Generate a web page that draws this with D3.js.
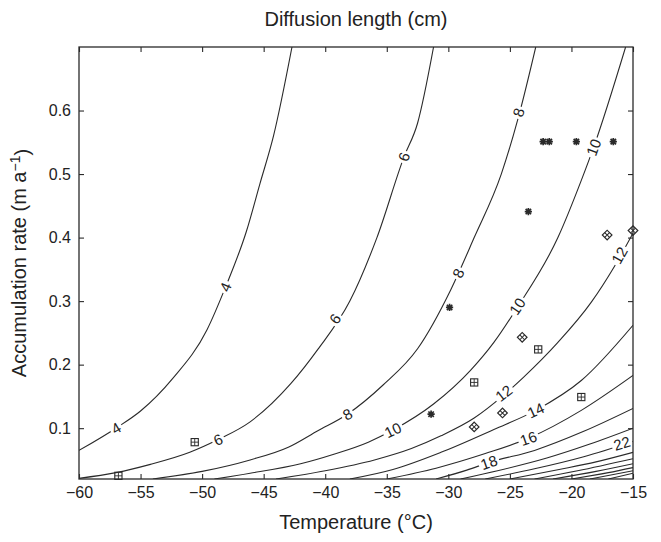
<!DOCTYPE html>
<html>
<head>
<meta charset="utf-8">
<script src="https://d3js.org/d3.v7.min.js"></script>
<style>
  body { margin: 0; background: #fff; }
  text { font-family: "Liberation Sans", Arial, Helvetica, sans-serif; fill: #222; }
</style>
</head>
<body>
<div class="vis-contour"></div>
<script>
// axis ticks
const xTicks = [-60, -55, -50, -45, -40, -35, -30, -25, -20, -15];
const yTicks = [0.1, 0.2, 0.3, 0.4, 0.5, 0.6];

// contour lines, [temperature, accumulation]
const c4 = [[-60, 0.065], [-57, 0.10], [-55, 0.127], [-52.4, 0.178], [-49.6, 0.255], [-48.1, 0.322], [-46.4, 0.41], [-45.3, 0.485], [-44.2, 0.56], [-42.7, 0.70]];
const c6 = [[-60, 0.021], [-57, 0.03], [-54.2, 0.043], [-51, 0.062], [-48.7, 0.082], [-46.1, 0.11], [-42.8, 0.17], [-40.6, 0.224], [-38, 0.30], [-35.8, 0.40], [-33.6, 0.527], [-32.5, 0.58], [-31.2, 0.70]];
const c8 = [[-54, 0.02], [-50, 0.032], [-46.1, 0.05], [-43, 0.07], [-40.6, 0.096], [-38.2, 0.122], [-35.3, 0.168], [-32.5, 0.225], [-29.8, 0.318], [-27.9, 0.40], [-25.7, 0.50], [-24.3, 0.59], [-22.9, 0.70]];
const c10 = [[-49, 0.02], [-46.1, 0.029], [-42, 0.044], [-39.3, 0.059], [-36.5, 0.078], [-34.5, 0.097], [-31.2, 0.138], [-28.2, 0.191], [-26.3, 0.235], [-24.4, 0.29], [-21.1, 0.40], [-19.2, 0.49], [-18.2, 0.542], [-15.6, 0.70]];
const c12 = [[-44, 0.02], [-40, 0.033], [-36, 0.05], [-33, 0.068], [-30.6, 0.088], [-27.9, 0.116], [-25.5, 0.152], [-23.9, 0.18], [-21.1, 0.235], [-18.4, 0.298], [-16.5, 0.355], [-15, 0.407]];
const c14 = [[-38, 0.02], [-34.5, 0.035], [-30.6, 0.062], [-26.3, 0.098], [-22.9, 0.128], [-19.2, 0.175], [-15, 0.262]];
const c16 = [[-35, 0.02], [-31, 0.037], [-27, 0.06], [-23.5, 0.084], [-19.2, 0.128], [-15, 0.183]];
const c18 = [[-31, 0.02], [-28.5, 0.034], [-26.7, 0.046], [-23, 0.065], [-19, 0.095], [-15, 0.131]];
const c20 = [[-29, 0.02], [-26, 0.033], [-22, 0.053], [-18.5, 0.075], [-15, 0.10]];
const c22 = [[-27, 0.02], [-23, 0.036], [-19, 0.055], [-15, 0.079]];
const c24 = [[-25, 0.02], [-21, 0.035], [-18, 0.047], [-15, 0.062]];
const c26 = [[-23, 0.02], [-19.5, 0.033], [-15, 0.052]];
const c28 = [[-21.5, 0.02], [-18, 0.032], [-15, 0.044]];
const c30 = [[-20, 0.02], [-17, 0.03], [-15, 0.038]];
const c32 = [[-18.5, 0.02], [-15, 0.033]];
const c34 = [[-17, 0.02], [-15, 0.029]];
const contours = [c4, c6, c8, c10, c12, c14, c16, c18, c20, c22, c24, c26, c28, c30, c32, c34];
const levels = [4, 6, 8, 10, 12, 14, 16, 18, 20, 22, 24, 26, 28, 30, 32, 34];

// inline contour labels: level, temperature, accumulation
const labelLevel = [4, 4, 6, 6, 6, 8, 8, 8, 10, 10, 10, 12, 12, 14, 16, 18, 22];
const labelT = [-57, -48.1, -48.7, -39.2, -33.6, -38.2, -29.2, -24.3, -34.5, -24.4, -18.2, -25.5, -16.1, -22.9, -23.5, -26.7, -15.9];
const labelA = [0.10, 0.322, 0.082, 0.272, 0.527, 0.122, 0.344, 0.597, 0.097, 0.292, 0.542, 0.155, 0.372, 0.128, 0.084, 0.046, 0.076];

// site markers
const starT = [-22.3, -21.8, -19.6, -16.6, -23.5, -29.9, -31.4];
const starA = [0.551, 0.551, 0.551, 0.551, 0.441, 0.29, 0.122];
const boxT = [-22.7, -27.9, -19.2, -50.6, -56.8];
const boxA = [0.224, 0.172, 0.149, 0.078, 0.025];
const diaT = [-24.0, -25.6, -27.9, -17.1, -15.0];
const diaA = [0.243, 0.124, 0.102, 0.404, 0.411];

const W = 661, H = 542;
const margin = { left: 79, right: 633, top: 47, bottom: 479 };
const ink = '#2a2a2a';

const svg = d3.select('.vis-contour')
    .append('svg')
    .attr('width', W)
    .attr('height', H);

const x = d3.scaleLinear().domain([-60, -15]).range([margin.left, margin.right]);
const y = d3.scaleLinear().domain([0.02, 0.7]).range([margin.bottom, margin.top]);

svg.append('defs').append('clipPath')
    .attr('id', 'plotclip')
    .append('rect')
    .attr('x', margin.left).attr('y', margin.top)
    .attr('width', margin.right - margin.left).attr('height', margin.bottom - margin.top);

// contours
const lineGen = d3.line()
    .x(d => x(d[0]))
    .y(d => y(d[1]))
    .curve(d3.curveMonotoneX);

const lineLayer = svg.append('g').attr('clip-path', 'url(#plotclip)');
lineLayer.selectAll('path')
    .data(contours)
    .join('path')
    .attr('d', lineGen)
    .attr('fill', 'none')
    .attr('stroke', ink)
    .attr('stroke-width', 1.1);

// labels sit on the line, rotated along it, with a gap
function slopeAngle(pts, t) {
    let i = 1;
    while (i < pts.length - 1 && pts[i][0] < t) i++;
    const a = pts[i - 1], b = pts[i];
    const dx = x(b[0]) - x(a[0]), dy = y(b[1]) - y(a[1]);
    return Math.atan2(dy, dx) * 180 / Math.PI;
}

const labelLayer = svg.append('g');
labelLevel.forEach((lv, i) => {
    const pts = contours[levels.indexOf(lv)];
    const ang = slopeAngle(pts, labelT[i]);
    const g = labelLayer.append('g')
        .attr('transform', 'translate(' + x(labelT[i]) + ',' + y(labelA[i]) + ')rotate(' + ang + ')');
    const txt = String(lv);
    const w = txt.length * 8.5 + 4;
    g.append('rect')
        .attr('x', -w / 2).attr('y', -6)
        .attr('width', w).attr('height', 12)
        .attr('fill', '#fff');
    g.append('text')
        .attr('text-anchor', 'middle')
        .attr('dy', '0.36em')
        .style('font-size', '15px')
        .text(txt);
});

// markers
const mk = svg.append('g').attr('stroke', ink).attr('fill', 'none');
starT.forEach((t, i) => {
    const r = 3.6;
    const cx = x(t), cy = y(starA[i]);
    mk.append('path')
        .attr('d', 'M' + (cx - r) + ',' + cy + 'h' + 2 * r +
            'M' + cx + ',' + (cy - r) + 'v' + 2 * r +
            'M' + (cx - r * 0.75) + ',' + (cy - r * 0.75) + 'l' + 1.5 * r + ',' + 1.5 * r +
            'M' + (cx - r * 0.75) + ',' + (cy + r * 0.75) + 'l' + 1.5 * r + ',' + (-1.5 * r))
        .attr('stroke-width', 1.7);
});
boxT.forEach((t, i) => {
    const r = 3.6;
    const cx = x(t), cy = y(boxA[i]);
    mk.append('rect')
        .attr('x', cx - r).attr('y', cy - r)
        .attr('width', 2 * r).attr('height', 2 * r)
        .attr('stroke-width', 1.1);
    mk.append('path')
        .attr('d', 'M' + (cx - r) + ',' + cy + 'h' + 2 * r + 'M' + cx + ',' + (cy - r) + 'v' + 2 * r)
        .attr('stroke-width', 0.9);
});
diaT.forEach((t, i) => {
    const r = 3.4;
    const g = mk.append('g')
        .attr('transform', 'translate(' + x(t) + ',' + y(diaA[i]) + ')rotate(45)');
    g.append('rect')
        .attr('x', -r).attr('y', -r)
        .attr('width', 2 * r).attr('height', 2 * r)
        .attr('stroke-width', 1.2);
    g.append('path')
        .attr('d', 'M' + (-r) + ',0h' + 2 * r + 'M0,' + (-r) + 'v' + 2 * r)
        .attr('stroke-width', 1);
});

// axes, ticks point inward
const axisStyle = g => {
    g.select('.domain').remove();
    g.selectAll('line').attr('stroke', ink).attr('stroke-width', 1.1);
    g.selectAll('text').style('font-size', '16px').attr('fill', '#222');
};
svg.append('g')
    .attr('transform', 'translate(0,' + margin.bottom + ')')
    .call(d3.axisBottom(x).tickValues(xTicks).tickSize(-5).tickPadding(8).tickFormat(d3.format('d')))
    .call(axisStyle);
svg.append('g')
    .attr('transform', 'translate(0,' + margin.top + ')')
    .call(d3.axisTop(x).tickValues(xTicks).tickSize(-5).tickFormat(''))
    .call(axisStyle);
svg.append('g')
    .attr('transform', 'translate(' + margin.left + ',0)')
    .call(d3.axisLeft(y).tickValues(yTicks).tickSize(-5).tickPadding(8).tickFormat(d3.format('.1f')))
    .call(axisStyle);
svg.append('g')
    .attr('transform', 'translate(' + margin.right + ',0)')
    .call(d3.axisRight(y).tickValues(yTicks).tickSize(-5).tickFormat(''))
    .call(axisStyle);

svg.append('rect')
    .attr('x', margin.left).attr('y', margin.top)
    .attr('width', margin.right - margin.left).attr('height', margin.bottom - margin.top)
    .attr('fill', 'none')
    .attr('stroke', ink)
    .attr('stroke-width', 1.3);

// titles
const midX = (margin.left + margin.right) / 2;
svg.append('text')
    .attr('x', midX).attr('y', 26)
    .attr('text-anchor', 'middle')
    .style('font-size', '20px')
    .text('Diffusion length (cm)');
svg.append('text')
    .attr('x', midX).attr('y', 529)
    .attr('text-anchor', 'middle')
    .style('font-size', '20px')
    .text('Temperature (°C)');
const yl = svg.append('text')
    .attr('transform', 'translate(26,' + (margin.top + margin.bottom) / 2 + ')rotate(-90)')
    .attr('text-anchor', 'middle')
    .style('font-size', '20px');
yl.append('tspan').text('Accumulation rate (m a');
yl.append('tspan').attr('dy', '-0.45em').style('font-size', '14px').text('−1');
yl.append('tspan').attr('dy', '0.45em').text(')');
</script>
</body>
</html>
